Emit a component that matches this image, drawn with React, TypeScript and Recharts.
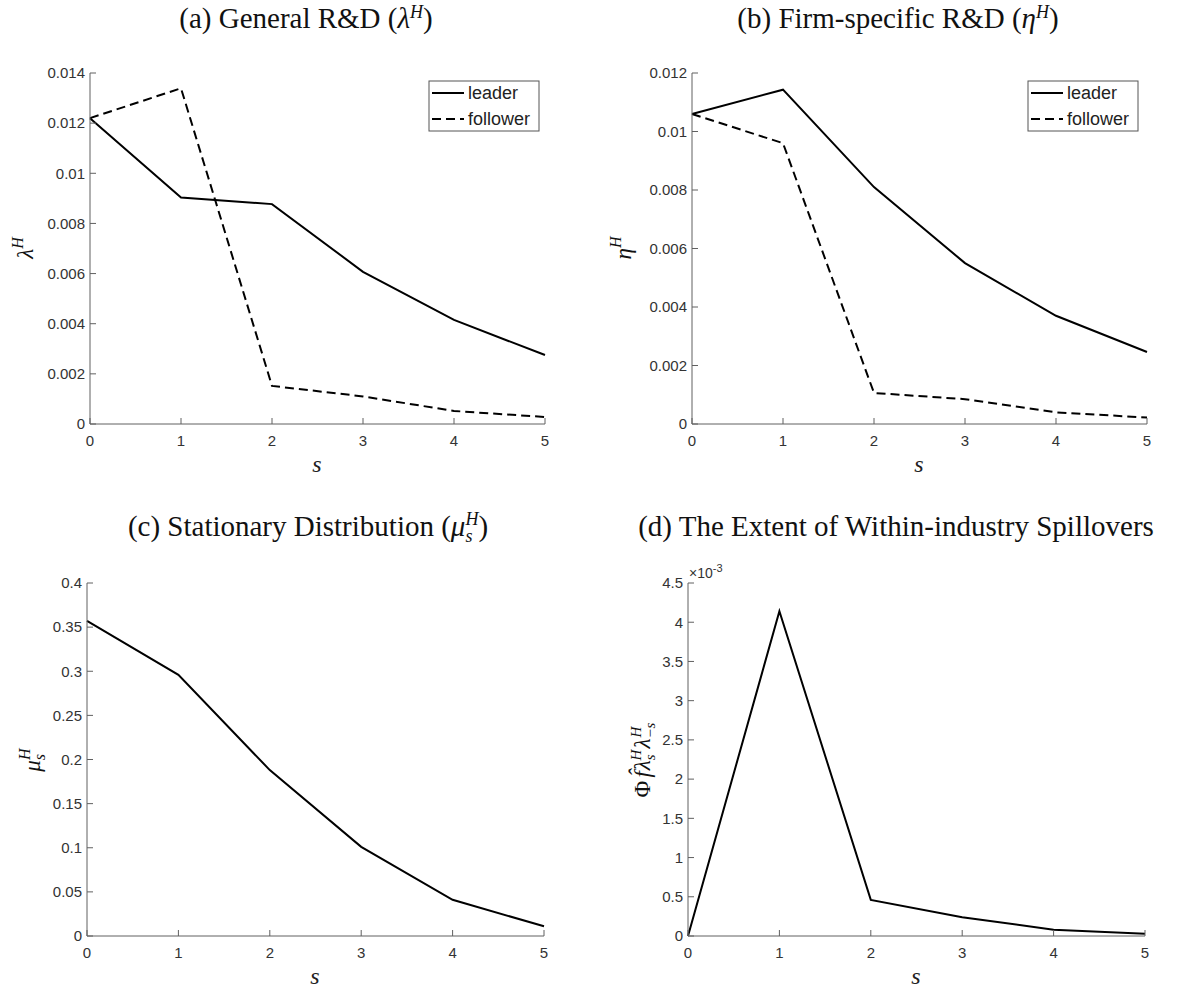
import React from "react";
import { LineChart, Line, XAxis, YAxis } from "recharts";

// industry state s (technology gap)
const states = [0, 1, 2, 3, 4, 5];

// (a) general R&D
const lambdaLeader = [0.0122, 0.00903, 0.00877, 0.00607, 0.00415, 0.00275];
const lambdaFollower = [0.0122, 0.01339, 0.00152, 0.0011, 0.00052, 0.00028];

// (b) firm-specific R&D
const etaLeader = [0.0106, 0.01143, 0.0081, 0.0055, 0.0037, 0.00246];
const etaFollower = [0.0106, 0.0096, 0.00106, 0.00085, 0.0004, 0.00022];

// (c) stationary distribution
const muStationary = [0.357, 0.296, 0.188, 0.101, 0.041, 0.011];

// (d) within-industry spillovers, in units of 1e-3
const spillovers = [0, 4.14, 0.46, 0.24, 0.08, 0.03];

const lambdaTicks = [0, 0.002, 0.004, 0.006, 0.008, 0.01, 0.012, 0.014];
const etaTicks = [0, 0.002, 0.004, 0.006, 0.008, 0.01, 0.012];
const muTicks = [0, 0.05, 0.1, 0.15, 0.2, 0.25, 0.3, 0.35, 0.4];
const spillTicks = [0, 0.5, 1, 1.5, 2, 2.5, 3, 3.5, 4, 4.5];

const AXIS = "#606060";
const TICK_TEXT = "#333";
const SANS = "'Liberation Sans', Arial, Helvetica, sans-serif";
const SERIF = "'Liberation Serif', 'Times New Roman', serif";

const pairData = (a: number[], b: number[]) =>
  states.map((s, i) => ({ s, leader: a[i], follower: b[i] }));
const singleData = (v: number[]) => states.map((s, i) => ({ s, value: v[i] }));

type Series = { key: string; dashed?: boolean };

function Panel(props: {
  x: number;
  y: number;
  w: number;
  h: number;
  data: Array<Record<string, number>>;
  series: Series[];
  yTicks: number[];
}) {
  const { x, y, w, h, data, series, yTicks } = props;
  const yMax = yTicks[yTicks.length - 1];
  const tickStyle = { fill: TICK_TEXT, fontSize: 15, fontFamily: SANS };
  return (
    <div style={{ position: "absolute", left: x - 90, top: y - 20 }}>
      <LineChart
        width={w + 100}
        height={h + 60}
        data={data}
        margin={{ top: 20, right: 10, bottom: 0, left: 0 }}
      >
        <XAxis
          dataKey="s"
          type="number"
          domain={[0, 5]}
          ticks={states}
          height={40}
          tickSize={-6}
          tickMargin={17}
          axisLine={{ stroke: AXIS }}
          tickLine={{ stroke: AXIS }}
          tick={tickStyle}
        />
        <XAxis
          xAxisId="top"
          orientation="top"
          type="number"
          domain={[0, 5]}
          ticks={states}
          height={0}
          tickSize={-6}
          tick={false}
          axisLine={{ stroke: AXIS }}
          tickLine={{ stroke: AXIS }}
        />
        <YAxis
          type="number"
          domain={[0, yMax]}
          ticks={yTicks}
          width={90}
          tickSize={-6}
          tickMargin={11}
          tickFormatter={(v: number) => String(v)}
          axisLine={{ stroke: AXIS }}
          tickLine={{ stroke: AXIS }}
          tick={tickStyle}
        />
        <YAxis
          yAxisId="right"
          orientation="right"
          type="number"
          domain={[0, yMax]}
          ticks={yTicks}
          width={0}
          tickSize={-6}
          tick={false}
          axisLine={{ stroke: AXIS }}
          tickLine={{ stroke: AXIS }}
        />
        {series.map((s) => (
          <Line
            key={s.key}
            dataKey={s.key}
            type="linear"
            stroke="#000"
            strokeWidth={2}
            strokeDasharray={s.dashed ? "9 5" : undefined}
            dot={false}
            activeDot={false}
            isAnimationActive={false}
          />
        ))}
      </LineChart>
    </div>
  );
}

function LegendBox({ x, y }: { x: number; y: number }) {
  return (
    <g>
      <rect x={x} y={y} width={110} height={50} fill="#fff" stroke="#555" strokeWidth={1} />
      <line x1={x + 3} x2={x + 35} y1={y + 12} y2={y + 12} stroke="#000" strokeWidth={2} />
      <text x={x + 39} y={y + 12} dy="0.35em" fontSize={18} fontFamily={SANS} fill="#222">
        leader
      </text>
      <line x1={x + 3} x2={x + 35} y1={y + 38} y2={y + 38} stroke="#000" strokeWidth={2} strokeDasharray="9 5" />
      <text x={x + 39} y={y + 38} dy="0.35em" fontSize={18} fontFamily={SANS} fill="#222">
        follower
      </text>
    </g>
  );
}

function Overlay() {
  const t = { fontFamily: SERIF, fontSize: 29, fill: "#111", textAnchor: "middle" as const };
  const yl = { fontFamily: SERIF, fontSize: 23, fill: "#111", textAnchor: "middle" as const };
  return (
    <svg
      width={1178}
      height={991}
      style={{ position: "absolute", left: 0, top: 0, pointerEvents: "none" }}
    >
      {/* titles */}
      <text x={306} y={28} {...t}>
        (a) General R&amp;D (<tspan fontStyle="italic">λ</tspan>
        <tspan fontSize={18} fontStyle="italic" dy={-10}>H</tspan>
        <tspan dy={10}>)</tspan>
      </text>
      <text x={898} y={28} {...t}>
        (b) Firm-specific R&amp;D (<tspan fontStyle="italic">η</tspan>
        <tspan fontSize={18} fontStyle="italic" dy={-10}>H</tspan>
        <tspan dy={10}>)</tspan>
      </text>
      <text x={308} y={536} {...t}>
        (c) Stationary Distribution (<tspan fontStyle="italic">μ</tspan>
        <tspan fontSize={18} fontStyle="italic" dy={6}>s</tspan>
        <tspan fontSize={18} fontStyle="italic" dx={-7} dy={-17}>H</tspan>
        <tspan dy={11}>)</tspan>
      </text>
      <text x={896} y={536} {...t}>
        (d) The Extent of Within-industry Spillovers
      </text>

      {/* x labels */}
      {[317, 919].map((cx) => (
        <text key={cx} x={cx} y={472} fontFamily={SERIF} fontStyle="italic" fontSize={24} fill="#222" textAnchor="middle">
          s
        </text>
      ))}
      {[315, 916].map((cx) => (
        <text key={cx} x={cx} y={984} fontFamily={SERIF} fontStyle="italic" fontSize={24} fill="#222" textAnchor="middle">
          s
        </text>
      ))}

      {/* y labels */}
      <g transform="translate(33,248) rotate(-90)">
        <text {...yl}>
          <tspan fontStyle="italic">λ</tspan>
          <tspan fontStyle="italic" fontSize={16} dy={-10}>H</tspan>
        </text>
      </g>
      <g transform="translate(631,248) rotate(-90)">
        <text {...yl}>
          <tspan fontStyle="italic">η</tspan>
          <tspan fontStyle="italic" fontSize={16} dy={-10}>H</tspan>
        </text>
      </g>
      <g transform="translate(40,760) rotate(-90)">
        <text {...yl}>
          <tspan fontStyle="italic">μ</tspan>
          <tspan fontStyle="italic" fontSize={16} dy={5}>s</tspan>
          <tspan fontStyle="italic" fontSize={16} dx={-6} dy={-15}>H</tspan>
        </text>
      </g>
      <g transform="translate(650,760) rotate(-90)">
        <text {...yl}>
          <tspan>Φ</tspan>
          <tspan fontStyle="italic" dx={3}>f̂</tspan>
          <tspan fontStyle="italic" dx={1}>λ</tspan>
          <tspan fontStyle="italic" fontSize={15} dy={5}>s</tspan>
          <tspan fontStyle="italic" fontSize={15} dx={-6} dy={-14}>H</tspan>
          <tspan fontStyle="italic" dx={1} dy={9}>λ</tspan>
          <tspan fontStyle="italic" fontSize={15} dy={5}>−s</tspan>
          <tspan fontStyle="italic" fontSize={15} dx={-15} dy={-14}>H</tspan>
        </text>
      </g>

      {/* scale multiplier for (d) */}
      <text x={689} y={578} fontFamily={SANS} fontSize={14} fill={TICK_TEXT}>
        ×10<tspan fontSize={11} dy={-6}>-3</tspan>
      </text>

      <LegendBox x={429} y={81} />
      <LegendBox x={1028} y={81} />
    </svg>
  );
}

export default function App() {
  return (
    <div
      style={{
        position: "absolute",
        left: 0,
        top: 0,
        width: 1178,
        height: 991,
        background: "#fff",
      }}
    >
      <Panel
        x={90}
        y={73}
        w={455}
        h={351}
        data={pairData(lambdaLeader, lambdaFollower)}
        series={[{ key: "leader" }, { key: "follower", dashed: true }]}
        yTicks={lambdaTicks}
      />
      <Panel
        x={692}
        y={73}
        w={455}
        h={351}
        data={pairData(etaLeader, etaFollower)}
        series={[{ key: "leader" }, { key: "follower", dashed: true }]}
        yTicks={etaTicks}
      />
      <Panel
        x={87}
        y={583}
        w={457}
        h={353}
        data={singleData(muStationary)}
        series={[{ key: "value" }]}
        yTicks={muTicks}
      />
      <Panel
        x={688}
        y={583}
        w={457}
        h={353}
        data={singleData(spillovers)}
        series={[{ key: "value" }]}
        yTicks={spillTicks}
      />
      <Overlay />
    </div>
  );
}
